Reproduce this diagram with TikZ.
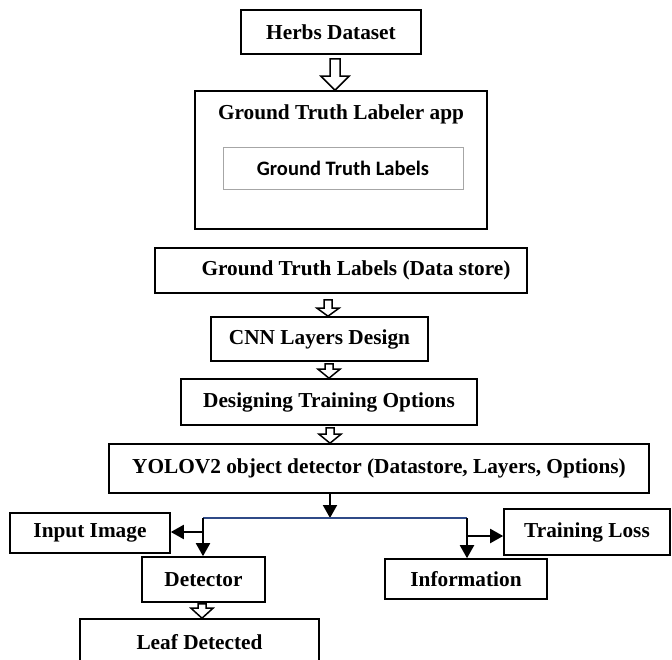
\documentclass[tikz,border=0pt]{standalone}
\usepackage{fontspec}
\setmainfont{Liberation Serif}
\newfontfamily\carlitofont{Carlito}
\usetikzlibrary{arrows.meta,calc}
\definecolor{navy}{HTML}{2F4A87}
\tikzset{
 box/.style={draw, line width=1.6pt, inner sep=0pt, font=\fontsize{21.3}{25}\selectfont\bfseries},
 lbl/.style={inner sep=0pt, font=\fontsize{21.3}{25}\selectfont\bfseries},
 arr/.style={line width=2pt, -{Triangle[width=14pt,length=13pt]}},
 hollow/.style={draw, line width=1.5pt, fill=white, line join=miter},
}
% #1 from, #2 to, #3 x, #4 shaft half width, #5 head half width, #6 head length, #7 gap below source
\newcommand{\harrow}[7]{\path[hollow] let \p1=(#1.south), \p2=(#2.north), \p3=(#3,0) in
  (\x3-#4pt,\y1-#7pt) -- (\x3-#4pt,\y2+#6pt) -- (\x3-#5pt,\y2+#6pt) -- (\x3,\y2) --
  (\x3+#5pt,\y2+#6pt) -- (\x3+#4pt,\y2+#6pt) -- (\x3+#4pt,\y1-#7pt) -- cycle;}
\begin{document}
\begin{tikzpicture}[x=1pt,y=-1pt]
\useasboundingbox (0,0) rectangle (672,660);
% nodes
\node[box, minimum width=180, minimum height=44] (herbs) at (331,32) {Herbs Dataset};
\node[box, minimum width=292, minimum height=138] (app) at (341,160) {};
\node[lbl] (apptitle) at (341,114) {Ground Truth Labeler app};
\node[draw=gray!70, line width=0.8pt, inner sep=0pt, minimum width=240, minimum height=42,
      font=\carlitofont\fontsize{20.5}{24}\selectfont\bfseries] (gtl) at (343,168) {Ground Truth Labels};
\node[box, minimum width=372, minimum height=45] (ds) at (341,270.5) {\hspace*{30pt}Ground Truth Labels (Data store)};
\node[box, minimum width=217, minimum height=44] (cnn) at (319.5,339) {CNN Layers Design};
\node[box, minimum width=296, minimum height=46] (opt) at (329,402) {Designing Training Options};
\node[box, minimum width=540, minimum height=49] (yolo) at (379,468.5) {YOLOV2 object detector (Datastore, Layers, Options)};
\node[box, minimum width=160, minimum height=40] (input) at (90,533) {\raisebox{-3pt}{Input Image}};
\node[box, minimum width=123, minimum height=45] (det) at (203.5,579.5) {Detector};
\node[box, minimum width=239, minimum height=46] (leaf) at (199.5,642) {Leaf Detected};
\node[box, minimum width=162, minimum height=40] (info) at (466,579) {Information};
\node[box, minimum width=166, minimum height=46] (loss) at (587,532) {Training Loss};
% hollow arrows
\harrow{herbs}{app}{335}{5}{14}{14}{4}
\harrow{ds}{cnn}{328}{4}{11}{8}{6}
\harrow{cnn}{opt}{329}{4}{11}{9}{2}
\harrow{opt}{yolo}{330}{4}{11}{9}{2}
\harrow{det}{leaf}{202}{4}{11}{10}{1}
% branching connectors
\coordinate (jm) at (330,518);
\coordinate (jl) at (203,518);
\coordinate (jr) at (467,518);
\coordinate (jli) at (203,532);
\coordinate (jri) at (467,536);
\draw[arr] (yolo.south -| jm) -- (jm);
\draw[navy, line width=1.4pt] (jl) -- (jr);
\draw[arr] (jl) -- (jl |- det.north);
\draw[arr] (jli) -- (jli -| input.east);
\draw[arr] (jr) -- (jr |- info.north);
\draw[arr] (jri) -- (jri -| loss.west);
\end{tikzpicture}
\end{document}
